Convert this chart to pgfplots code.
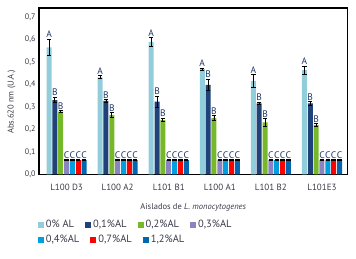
\documentclass[border=0pt]{standalone}
\usepackage{fontspec}
\setmainfont{PT Sans}
\usepackage{pgfplots}
\usepackage{pgfplotstable}
\pgfplotsset{compat=1.18}
\definecolor{c0}{HTML}{92CDDC}
\definecolor{c1}{HTML}{1F4278}
\definecolor{c2}{HTML}{77B82A}
\definecolor{c3}{HTML}{8A84C2}
\definecolor{c4}{HTML}{00A0E0}
\definecolor{c5}{HTML}{FF0000}
\definecolor{c6}{HTML}{0066B0}
\definecolor{txt}{HTML}{3A3A4A}
\definecolor{lett}{HTML}{1F3864}

\pgfplotstableread{
x v0 e0 v1 e1 v2 e2 v3 e3 v4 e4 v5 e5 v6 e6
0 0.565 0.036 0.331 0.012 0.279 0.005 0.064 0.002 0.064 0.002 0.064 0.002 0.064 0.002
1 0.432 0.007 0.327 0.005 0.264 0.010 0.064 0.002 0.064 0.002 0.064 0.002 0.064 0.002
2 0.589 0.020 0.324 0.024 0.242 0.007 0.064 0.002 0.064 0.002 0.064 0.002 0.064 0.002
3 0.468 0.004 0.398 0.026 0.251 0.010 0.064 0.002 0.064 0.002 0.064 0.002 0.064 0.002
4 0.416 0.027 0.316 0.006 0.232 0.017 0.064 0.002 0.064 0.002 0.064 0.002 0.064 0.002
5 0.464 0.018 0.316 0.007 0.220 0.006 0.064 0.002 0.064 0.002 0.064 0.002 0.064 0.002
}\data

\pgfplotsset{
  legimg/.style={legend image code/.code={\fill[##1] (0pt,-3pt) rectangle (6pt,3pt);}},
}

\begin{document}
\begin{tikzpicture}
\path[use as bounding box] (-39pt,-84.5pt) rectangle (317pt,174.5pt);
\begin{axis}[
  width=308.5pt, height=166.5pt, scale only axis,
  xmin=-0.54, xmax=5.5, ymin=0, ymax=0.74,
  ybar=0.85pt, bar width=5pt,
  xtick={0,...,5},
  xticklabels={L100 D3, L100 A2, L101 B1, L100 A1, L101 B2, L101E3},
  ytick={0,0.1,0.2,0.3,0.4,0.5,0.6,0.7},
  yticklabel style={/pgf/number format/use comma, /pgf/number format/fixed, /pgf/number format/fixed zerofill, /pgf/number format/precision=1, /pgf/number format/assume math mode=true, font=\fontsize{8}{9}\selectfont, text=txt},
  xticklabel style={font=\fontsize{9}{10}\selectfont, text=txt, yshift=-2pt},
  tick style={draw=none},
  axis line style={line width=1.5pt},
  xlabel={Aislados de \textit{L. monocytogenes}},
  xlabel style={font=\fontsize{8.5}{9}\selectfont, text=txt, yshift=-6pt},
  ylabel={Abs.620 nm (U.A.)},
  ylabel style={font=\fontsize{8.5}{9}\selectfont, text=txt, at={(axis description cs:-0.089,0.437)}, anchor=center},
  error bars/y dir=both, error bars/y explicit,
  error bars/error bar style={black, line width=0.8pt},
  error bars/error mark options={black, rotate=90, mark size=2.2pt, line width=0.8pt},
  every node near coord/.append style={font=\fontsize{9.5}{10}\selectfont, text=lett, inner sep=1.2pt, yshift=225*\err},
  legimg,
  legend columns=4,
  legend style={at={(axis description cs:0,0)}, anchor=west, xshift=-1.3pt, yshift=-50.5pt,
    draw=none, fill=none, inner sep=0pt, font=\fontsize{10.5}{11}\selectfont, text=txt,
    /tikz/every even column/.append style={column sep=9pt}},
]
\addplot[fill=c0, draw=none, nodes near coords={A}, visualization depends on={\thisrow{e0}\as\err}] table[x=x, y=v0, y error=e0]{\data};
\addlegendentry{0\% AL}
\addplot[fill=c1, draw=none, nodes near coords={B}, visualization depends on={\thisrow{e1}\as\err}] table[x=x, y=v1, y error=e1]{\data};
\addlegendentry{0,1\%AL}
\addplot[fill=c2, draw=none, nodes near coords={B}, visualization depends on={\thisrow{e2}\as\err}] table[x=x, y=v2, y error=e2]{\data};
\addlegendentry{0,2\%AL}
\addplot[fill=c3, draw=none, nodes near coords={C}, visualization depends on={\thisrow{e3}\as\err}] table[x=x, y=v3, y error=e3]{\data};
\addlegendentry{0,3\%AL}
\addplot[fill=c4, draw=none, nodes near coords={C}, visualization depends on={\thisrow{e4}\as\err}] table[x=x, y=v4, y error=e4]{\data};
\addplot[fill=c5, draw=none, nodes near coords={C}, visualization depends on={\thisrow{e5}\as\err}] table[x=x, y=v5, y error=e5]{\data};
\addplot[fill=c6, draw=none, nodes near coords={C}, visualization depends on={\thisrow{e6}\as\err}] table[x=x, y=v6, y error=e6]{\data};
\end{axis}
\begin{axis}[
  width=308.5pt, height=166.5pt, scale only axis,
  xmin=-0.54, xmax=5.5, ymin=0, ymax=0.74,
  hide axis,
  legimg,
  legend columns=3,
  legend style={at={(axis description cs:0,0)}, anchor=west, xshift=-1.3pt, yshift=-65.5pt,
    draw=none, fill=none, inner sep=0pt, font=\fontsize{10.5}{11}\selectfont, text=txt,
    /tikz/every even column/.append style={column sep=9pt}},
]
\addlegendimage{fill=c4, draw=none}
\addlegendentry{0,4\%AL}
\addlegendimage{fill=c5, draw=none}
\addlegendentry{0,7\%AL}
\addlegendimage{fill=c6, draw=none}
\addlegendentry{1,2\%AL}
\end{axis}
\end{tikzpicture}
\end{document}
